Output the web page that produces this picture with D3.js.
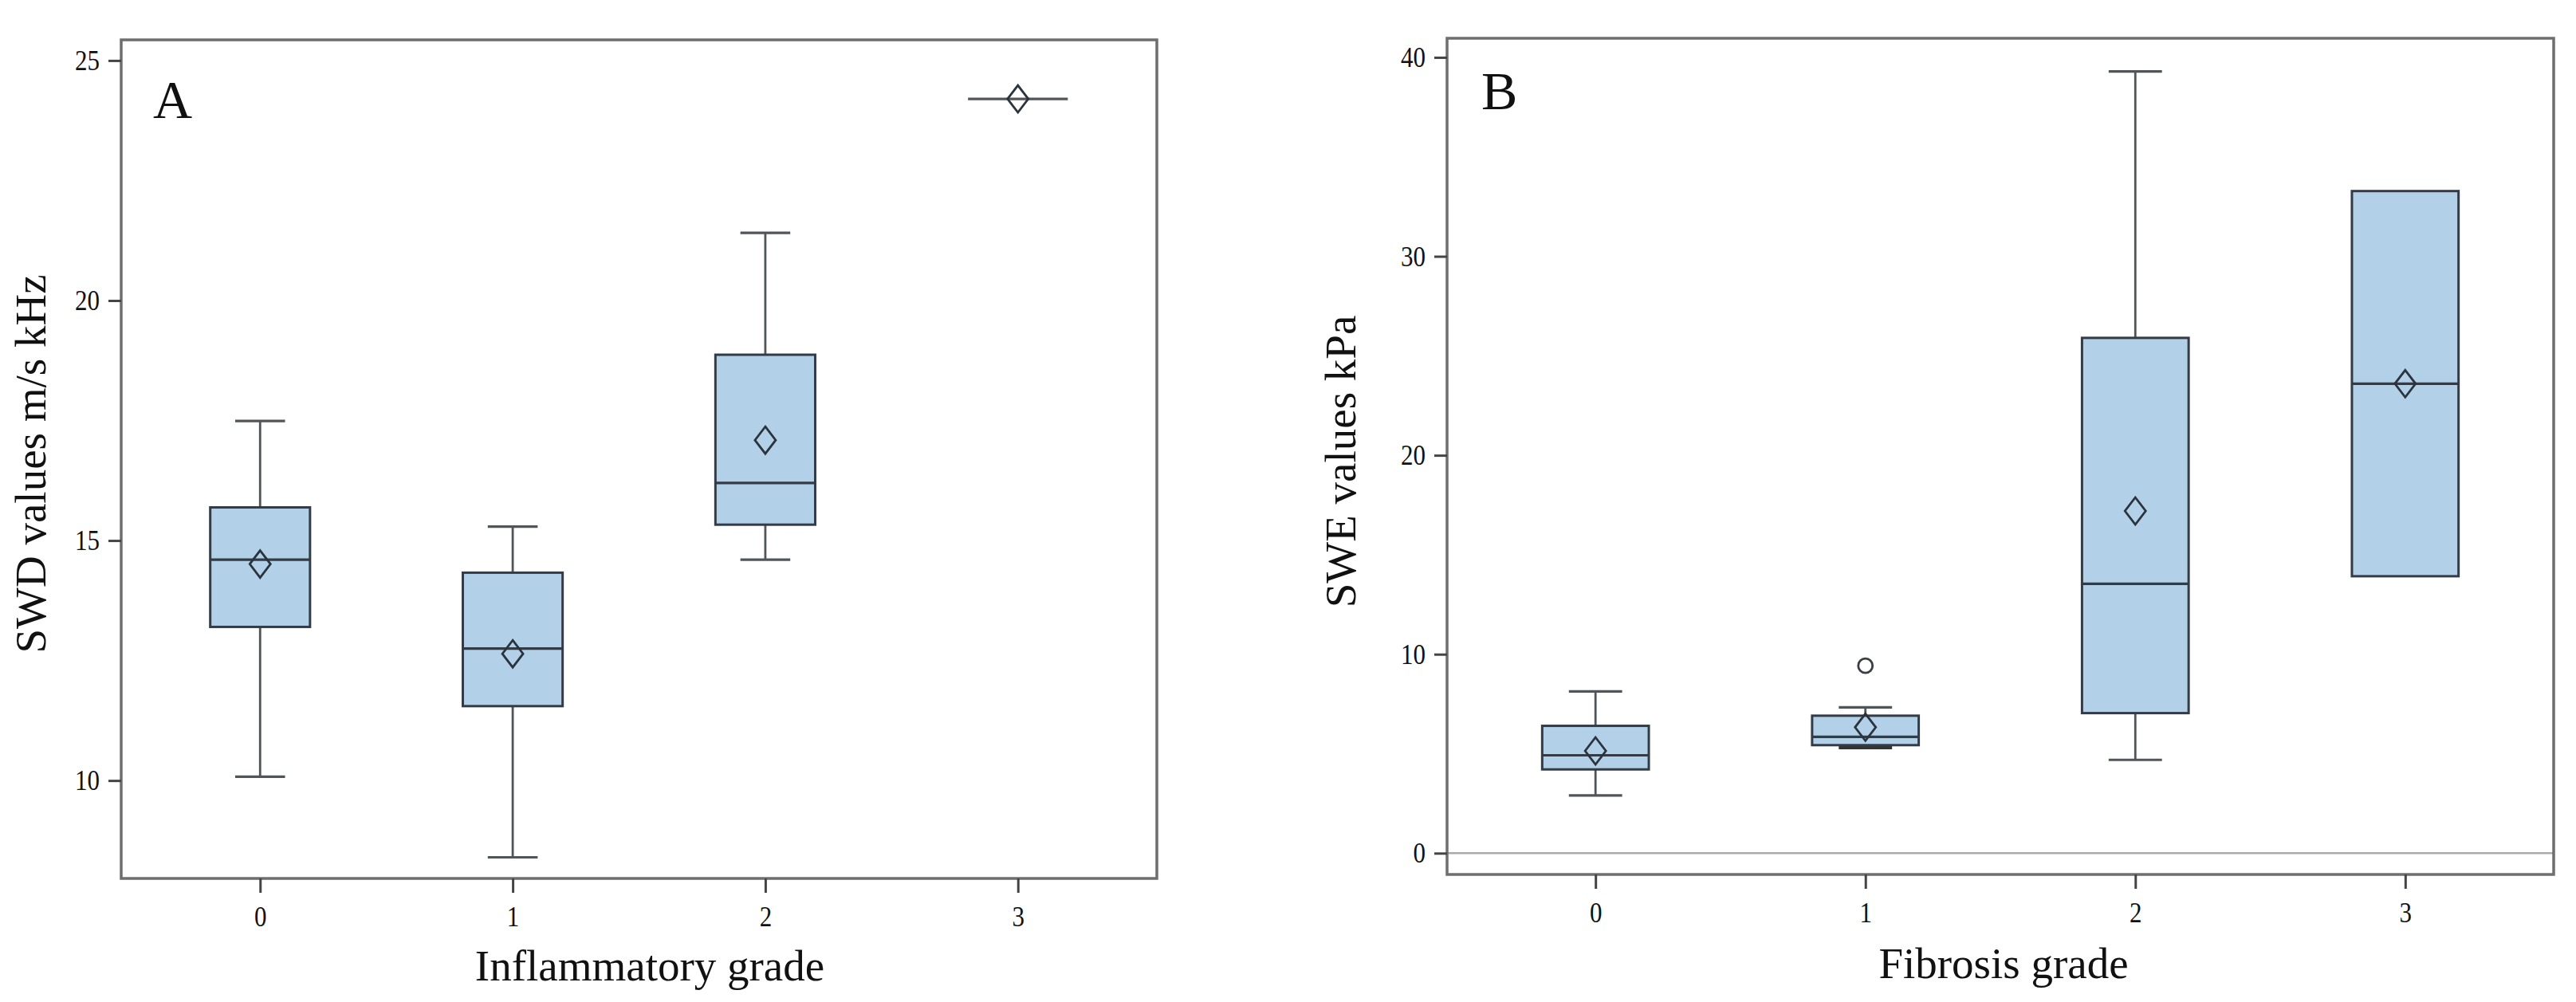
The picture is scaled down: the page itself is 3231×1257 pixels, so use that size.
<!DOCTYPE html>
<html>
<head>
<meta charset="utf-8">
<script src="https://cdn.jsdelivr.net/npm/d3@7"></script>
<style>
  html, body { margin: 0; padding: 0; background: #fff; }
  svg { display: block; }
  text { font-family: "Liberation Serif", "Times New Roman", serif; fill: #111; }
</style>
</head>
<body>
<svg id="chart" width="3231" height="1257"></svg>
<script>
// ---------- Data ----------
const gradeTicks = [0, 1, 2, 3];

// Panel A: SWD values (m/s kHz) by inflammatory grade
const swdMin    = [10.08,  8.40, 14.60, 24.20];
const swdQ1     = [13.20, 11.55, 15.33, 24.20];
const swdMedian = [14.60, 12.75, 16.20, 24.20];
const swdQ3     = [15.69, 14.33, 18.87, 24.20];
const swdMax    = [17.49, 15.29, 21.41, 24.20];
const swdMean   = [14.51, 12.64, 17.09, 24.20];
const swdTicks  = [10, 15, 20, 25];

// Panel B: SWE values (kPa) by fibrosis grade
const sweMin    = [ 2.90,  5.30,  4.69, 13.92];
const sweQ1     = [ 4.21,  5.43,  7.04, 13.92];
const sweMedian = [ 4.92,  5.85, 13.54, 23.60];
const sweQ3     = [ 6.40,  6.91, 25.90, 33.28];
const sweMax    = [ 8.13,  7.33, 39.29, 33.28];
const sweMean   = [ 5.14,  6.33, 17.20, 23.60];
const sweOutlierGrade = [1];
const sweOutlierValue = [9.42];
const sweTicks  = [0, 10, 20, 30, 40];

// ---------- Drawing ----------
const svg = d3.select("#chart");
const BOX_FILL = "#b3d0e9";
const BOX_STROKE = "#333c46";
const WHISK = "#50555a";
const FRAME = "#6e6e6e";

function drawPanel(cfg) {
  const g = svg.append("g");
  const x = d3.scaleLinear().domain([-0.55, 3.55]).range([cfg.left, cfg.right]);
  const y = d3.scaleLinear().domain(cfg.yDomain).range([cfg.bottom, cfg.top]);
  const boxW = x(0.395) - x(0);
  const capW = boxW / 2;

  const rows = gradeTicks.map((gr, i) => ({
    g: gr, min: cfg.min[i], q1: cfg.q1[i], med: cfg.med[i],
    q3: cfg.q3[i], max: cfg.max[i], mean: cfg.mean[i]
  }));

  if (cfg.refLine !== undefined) {
    g.append("line")
      .attr("x1", cfg.left).attr("x2", cfg.right)
      .attr("y1", y(cfg.refLine)).attr("y2", y(cfg.refLine))
      .attr("stroke", "#a9a9a9").attr("stroke-width", 2.5);
  }

  const grp = g.selectAll("g.box").data(rows).join("g").attr("class", "box");

  grp.append("line")
    .attr("x1", d => x(d.g)).attr("x2", d => x(d.g))
    .attr("y1", d => y(d.q3)).attr("y2", d => y(d.max))
    .attr("stroke", WHISK).attr("stroke-width", 2.8);
  grp.append("line")
    .attr("x1", d => x(d.g)).attr("x2", d => x(d.g))
    .attr("y1", d => y(d.q1)).attr("y2", d => y(d.min))
    .attr("stroke", WHISK).attr("stroke-width", 2.8);
  grp.filter(d => d.max !== d.q3).append("line")
    .attr("x1", d => x(d.g) - capW / 2).attr("x2", d => x(d.g) + capW / 2)
    .attr("y1", d => y(d.max)).attr("y2", d => y(d.max))
    .attr("stroke", WHISK).attr("stroke-width", 3.2);
  grp.filter(d => d.min !== d.q1).append("line")
    .attr("x1", d => x(d.g) - capW / 2).attr("x2", d => x(d.g) + capW / 2)
    .attr("y1", d => y(d.min)).attr("y2", d => y(d.min))
    .attr("stroke", d => (y(d.min) - y(d.q1) < 6 ? "#333" : WHISK))
    .attr("stroke-width", d => (y(d.min) - y(d.q1) < 6 ? 4 : 3.2));

  grp.filter(d => d.q3 > d.q1).append("rect")
    .attr("x", d => x(d.g) - boxW / 2).attr("width", boxW)
    .attr("y", d => y(d.q3)).attr("height", d => y(d.q1) - y(d.q3))
    .attr("fill", BOX_FILL).attr("stroke", BOX_STROKE).attr("stroke-width", 3);

  grp.append("line")
    .attr("x1", d => x(d.g) - boxW / 2).attr("x2", d => x(d.g) + boxW / 2)
    .attr("y1", d => y(d.med)).attr("y2", d => y(d.med))
    .attr("stroke", d => d.q3 > d.q1 ? BOX_STROKE : WHISK).attr("stroke-width", 3.2);

  const dw = 13, dh = 17;
  grp.append("path")
    .attr("d", d => {
      const cx = x(d.g), cy = y(d.mean);
      return `M${cx},${cy - dh}L${cx + dw},${cy}L${cx},${cy + dh}L${cx - dw},${cy}Z`;
    })
    .attr("fill", "none").attr("stroke", "#2b343d").attr("stroke-width", 2.8);

  if (cfg.outG) {
    g.selectAll("circle.out").data(cfg.outG.map((gr, i) => ({ g: gr, v: cfg.outV[i] })))
      .join("circle").attr("class", "out")
      .attr("cx", d => x(d.g)).attr("cy", d => y(d.v)).attr("r", 9)
      .attr("fill", "none").attr("stroke", "#3a3f45").attr("stroke-width", 2.8);
  }

  g.append("rect")
    .attr("x", cfg.left).attr("y", cfg.top)
    .attr("width", cfg.right - cfg.left).attr("height", cfg.bottom - cfg.top)
    .attr("fill", "none").attr("stroke", FRAME).attr("stroke-width", 3.5);

  const ya = g.append("g").attr("transform", `translate(${cfg.left},0)`)
    .call(d3.axisLeft(y).tickValues(cfg.yTicks).tickSize(16).tickPadding(11).tickFormat(d3.format("d")));
  const xa = g.append("g").attr("transform", `translate(0,${cfg.bottom})`)
    .call(d3.axisBottom(x).tickValues(gradeTicks).tickSize(18).tickPadding(16).tickFormat(d3.format("d")));
  [ya, xa].forEach(a => {
    a.select(".domain").remove();
    a.selectAll(".tick line").attr("stroke", "#444").attr("stroke-width", 3);
    a.selectAll(".tick text").attr("font-family", "Liberation Serif").attr("font-size", 36).attr("fill", "#333")
      .each(function () {
        const w = this.getComputedTextLength();
        d3.select(this).attr("textLength", w * 0.86).attr("lengthAdjust", "spacingAndGlyphs");
      });
  });

  g.append("text").attr("x", cfg.letterX).attr("y", cfg.letterY)
    .attr("font-size", 68).attr("fill", "#000").text(cfg.letter);

  g.append("text").attr("x", cfg.xTitleX).attr("y", cfg.xTitleY)
    .attr("text-anchor", "middle").attr("font-size", 55).attr("fill", "#111").text(cfg.xTitle);
  g.append("text")
    .attr("transform", `translate(${cfg.yTitleX},${cfg.yTitleY}) rotate(-90)`)
    .attr("text-anchor", "middle").attr("font-size", 55).attr("fill", "#111").text(cfg.yTitle);
}

drawPanel({
  left: 152, right: 1451, top: 50, bottom: 1102,
  yDomain: [7.96, 25.43], yTicks: swdTicks,
  min: swdMin, q1: swdQ1, med: swdMedian, q3: swdQ3, max: swdMax, mean: swdMean,
  letter: "A", letterX: 192, letterY: 148,
  xTitle: "Inflammatory grade", xTitleX: 815, xTitleY: 1230,
  yTitle: "SWD values m/s kHz", yTitleX: 57, yTitleY: 582
});

drawPanel({
  left: 1815, right: 3203, top: 48, bottom: 1097,
  yDomain: [-1.07, 40.96], yTicks: sweTicks,
  min: sweMin, q1: sweQ1, med: sweMedian, q3: sweQ3, max: sweMax, mean: sweMean,
  outG: sweOutlierGrade, outV: sweOutlierValue, refLine: 0,
  letter: "B", letterX: 1858, letterY: 137,
  xTitle: "Fibrosis grade", xTitleX: 2513, xTitleY: 1227,
  yTitle: "SWE values kPa", yTitleX: 1700, yTitleY: 579
});
</script>
</body>
</html>
